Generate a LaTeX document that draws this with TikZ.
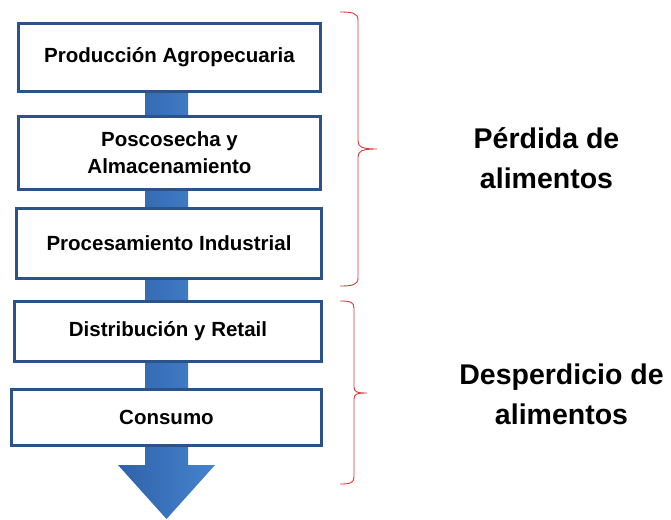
\documentclass[tikz,border=0pt]{standalone}
\usepackage{fontspec}
\setmainfont{Liberation Sans}
\begin{document}
\begin{tikzpicture}[x=1pt,y=-1pt,
  stage/.style={draw=boxblue,line width=2.6pt,fill=white,inner sep=0pt,align=center,
    font=\bfseries\fontsize{20.5}{27}\selectfont},
  brace/.style={draw=bracered,line width=0.9pt},
  label/.style={align=center,font=\bfseries\fontsize{28.5}{40}\selectfont}]
\definecolor{boxblue}{HTML}{2B5289}
\definecolor{shaftleft}{HTML}{2F62A8}
\definecolor{shaftright}{HTML}{4584CE}
\definecolor{bracered}{HTML}{D43C3C}
\useasboundingbox (0,0) rectangle (671,519);
% big arrow behind the boxes
\coordinate (sTL) at (145,90);
\coordinate (sBL) at (145,465);
\coordinate (hL) at (118,465);
\coordinate (tip) at (166.5,519);
\coordinate (hR) at (215,465);
\coordinate (sBR) at (188,465);
\coordinate (sTR) at (188,90);
\shade[left color=shaftleft,right color=shaftright]
  (sTL) -- (sBL) -- (hL) -- (tip) -- (hR) -- (sBR) -- (sTR) -- cycle;
% stages
\node[stage,minimum width=302pt,minimum height=68pt] (b1) at (169.5,57.5) {Producción Agropecuaria};
\node[stage,minimum width=302pt,minimum height=73pt] (b2) at (169.5,153) {Poscosecha y\\Almacenamiento};
\node[stage,minimum width=305pt,minimum height=70pt] (b3) at (169,243.5) {Procesamiento Industrial};
\node[stage,minimum width=307pt,minimum height=60pt] (b4) at (168,331.5) {Distribución y Retail};
\node[stage,minimum width=310pt,minimum height=56pt] (b5) at (166.5,417.5) {Consumo};
% braces
\draw[brace] (340,12) .. controls (352,12) and (358,13) .. (358,20) -- (358,141)
  .. controls (358,147) and (362,149) .. (377,149)
  .. controls (362,149) and (358,151) .. (358,157) -- (358,278)
  .. controls (358,285) and (352,286) .. (340,286);
\draw[brace] (340,301) .. controls (350,301) and (354,302) .. (354,308) -- (354,387)
  .. controls (354,392) and (357,393) .. (367,393)
  .. controls (357,393) and (354,394) .. (354,399) -- (354,477)
  .. controls (354,483) and (350,484) .. (340,484);
% labels
\node[label] (perdida) at (546.5,158.5) {Pérdida de\\alimentos};
\node[label] (desperdicio) at (561.5,394.5) {Desperdicio de\\alimentos};
\end{tikzpicture}
\end{document}
